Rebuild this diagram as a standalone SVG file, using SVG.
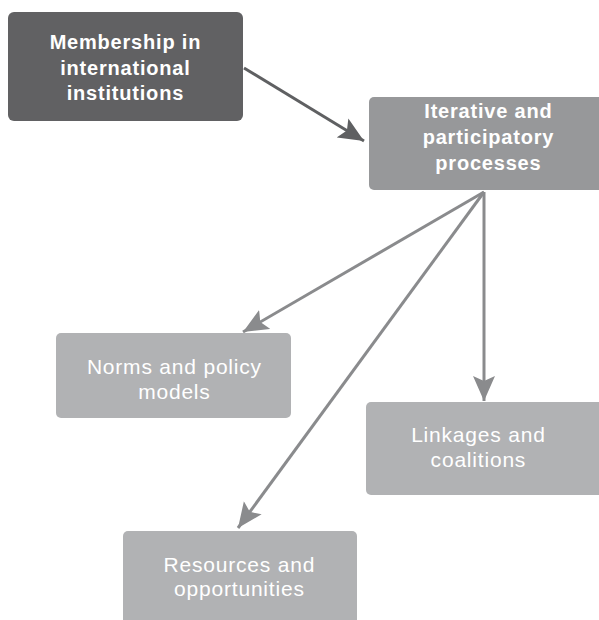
<svg xmlns="http://www.w3.org/2000/svg" width="599" height="620" viewBox="0 0 599 620">
<defs>
<style>
.t{font-family:"Liberation Sans",Arial,sans-serif;fill:#fff;text-anchor:middle}
.b{font-weight:bold;font-size:20px;letter-spacing:0.8px}
.r{font-size:21px;letter-spacing:0.8px}
.c{fill:none;stroke-width:3}
</style>
<marker id="ad" markerUnits="userSpaceOnUse" markerWidth="26" markerHeight="24" refX="25" refY="12" orient="auto">
<path d="M0,1 L25,12 L0,23 L5,12 z" fill="#5f6062"/>
</marker>
<marker id="al" markerUnits="userSpaceOnUse" markerWidth="26" markerHeight="24" refX="25" refY="12" orient="auto">
<path d="M0,1 L25,12 L0,23 L5,12 z" fill="#8a8b8d"/>
</marker>
</defs>
<rect width="599" height="620" fill="#fff"/>
<g id="connectors">
<line class="c" x1="244" y1="68" x2="364" y2="141" stroke="#5f6062" marker-end="url(#ad)"/>
<line class="c" x1="484" y1="192" x2="243" y2="332" stroke="#8a8b8d" marker-end="url(#al)"/>
<line class="c" x1="484" y1="192" x2="484" y2="401" stroke="#8a8b8d" marker-end="url(#al)"/>
<line class="c" x1="484" y1="192" x2="238" y2="528" stroke="#8a8b8d" marker-end="url(#al)"/>
</g>
<g id="membership">
<rect x="8" y="12" width="235" height="109" rx="6" fill="#616163"/>
<text class="t b" x="125.4" y="49">Membership in</text>
<text class="t b" x="125.4" y="75">international</text>
<text class="t b" x="125.4" y="100">institutions</text>
</g>
<g id="iterative">
<rect x="369" y="97" width="236" height="93" rx="5" fill="#97989a"/>
<text class="t b" x="488.4" y="118">Iterative and</text>
<text class="t b" x="488.4" y="144">participatory</text>
<text class="t b" x="488.4" y="170">processes</text>
</g>
<g id="norms">
<rect x="56" y="333" width="235" height="85" rx="5" fill="#b1b2b4"/>
<text class="t r" x="174.4" y="374">Norms and policy</text>
<text class="t r" x="174.4" y="399">models</text>
</g>
<g id="linkages">
<rect x="366" y="402" width="240" height="93" rx="5" fill="#b1b2b4"/>
<text class="t r" x="478.4" y="442">Linkages and</text>
<text class="t r" x="478.4" y="467">coalitions</text>
</g>
<g id="resources">
<rect x="123" y="531" width="234" height="100" rx="5" fill="#b1b2b4"/>
<text class="t r" x="239.4" y="572">Resources and</text>
<text class="t r" x="239.4" y="596">opportunities</text>
</g>
</svg>
